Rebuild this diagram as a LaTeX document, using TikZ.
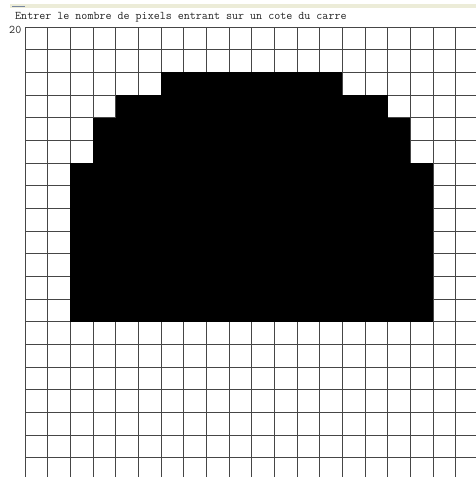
\documentclass[tikz,border=0pt]{standalone}
\usepackage{fontspec}
\definecolor{band}{RGB}{236,236,216}
\definecolor{bandmark}{RGB}{120,135,160}
\definecolor{gridcol}{RGB}{70,70,70}
\tikzset{
  gridline/.style={draw=gridcol, line width=1pt},
  cell/.style={fill=black, draw=none},
  label/.style={font=\ttfamily\fontsize{11.7pt}{13pt}\selectfont, text=black!85, inner sep=0pt}
}
\begin{document}
\begin{tikzpicture}[x=1pt,y=-1pt]
\useasboundingbox (0,0) rectangle (476,477);
\fill[white] (0,0) rectangle (476,477);
\clip (0,0) rectangle (476,477);
% top band
\fill[band] (10,3.5) rectangle (476,8);
\draw[bandmark, line width=1.2pt] (12,6.5) -- (25,6.5);
% title
\node[label, anchor=base west] (title) at (15,19.5) {Entrer le nombre de pixels entrant sur un cote du carre};
\node[label, anchor=base east] (size) at (21.5,33.5) {20};
% grid
\foreach \i in {0,...,20} {
  \draw[gridline] ({25+\i*22.67},27) -- ({25+\i*22.67},490);
  \draw[gridline] (25,{27+\i*22.67}) -- (490,{27+\i*22.67});
}
% black shape: rows (top index) with column ranges
\foreach \r/\a/\b in {2/6/13, 3/4/15, 4/3/16, 5/3/16, 6/2/17, 7/2/17, 8/2/17, 9/2/17, 10/2/17, 11/2/17, 12/2/17} {
  \fill[cell] ({25+\a*22.67},{27+\r*22.67}) rectangle ({25+(\b+1)*22.67},{27+(\r+1)*22.67});
}
\end{tikzpicture}
\end{document}
